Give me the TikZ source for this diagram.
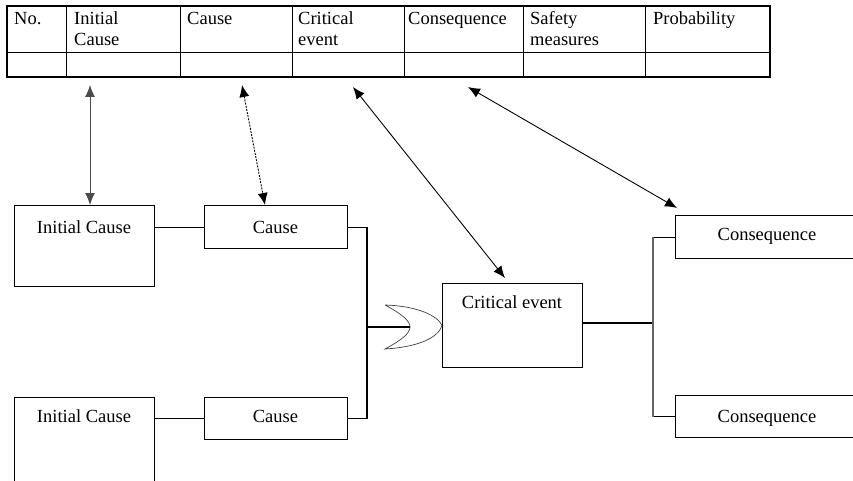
\documentclass[tikz,border=0pt]{standalone}
\usepackage{fontspec}
\setmainfont{Liberation Serif}
\usetikzlibrary{arrows.meta,calc}
\begin{document}
\begin{tikzpicture}[x=1pt,y=-1pt,
  cell/.style={draw,line width=1.1pt,rectangle,inner sep=0,anchor=north west},
  box/.style={draw,line width=1.1pt,rectangle,inner sep=0,anchor=north west},
  txt/.style={inner sep=0,anchor=base west,font=\fontsize{18.5}{21}\selectfont},
  btxt/.style={inner sep=0,anchor=base,font=\fontsize{18.5}{21}\selectfont},
  conn/.style={line width=1.1pt},
  biarrow/.style={line width=0.9pt,{Latex[length=12pt,width=10pt]}-{Latex[length=12pt,width=10pt]}},
  gate/.style={line width=0.7pt,draw=black!75}]
\useasboundingbox (0,0) rectangle (853,481);
\clip (0,0) rectangle (853,481);
% table
\node[cell,minimum width=59,minimum height=46] (h1) at (7,6) {};
\node[cell,minimum width=114,minimum height=46] (h2) at (66,6) {};
\node[cell,minimum width=112,minimum height=46] (h3) at (180,6) {};
\node[cell,minimum width=112,minimum height=46] (h4) at (292,6) {};
\node[cell,minimum width=119,minimum height=46] (h5) at (404,6) {};
\node[cell,minimum width=122,minimum height=46] (h6) at (523,6) {};
\node[cell,minimum width=124,minimum height=46] (h7) at (645,6) {};
\node[cell,minimum width=59,minimum height=24] (r1) at (7,52) {};
\node[cell,minimum width=114,minimum height=24] (r2) at (66,52) {};
\node[cell,minimum width=112,minimum height=24] (r3) at (180,52) {};
\node[cell,minimum width=112,minimum height=24] (r4) at (292,52) {};
\node[cell,minimum width=119,minimum height=24] (r5) at (404,52) {};
\node[cell,minimum width=122,minimum height=24] (r6) at (523,52) {};
\node[cell,minimum width=124,minimum height=24] (r7) at (645,52) {};
\draw[line width=1.8pt] (h1.north west) rectangle (r7.south east);
\node[txt] (t1) at (14,25) {No.};
\node[txt] (t2a) at (74,25) {Initial};
\node[txt] (t2b) at (74,46) {Cause};
\node[txt] (t3) at (187,25) {Cause};
\node[txt] (t4a) at (298,25) {Critical};
\node[txt] (t4b) at (298,46) {event};
\node[txt] (t5) at (408,25) {Consequence};
\node[txt] (t6a) at (530,25) {Safety};
\node[txt] (t6b) at (530,46) {measures};
\node[txt] (t7) at (653,25) {Probability};
% boxes
\node[box,minimum width=140,minimum height=81] (ic1) at (14,205) {};
\node[box,minimum width=143,minimum height=43] (c1) at (204,205) {};
\node[box,minimum width=140,minimum height=100] (ic2) at (14,397) {};
\node[box,minimum width=143,minimum height=42] (c2) at (204,397) {};
\node[box,minimum width=140,minimum height=84] (ce) at (442,283) {};
\node[box,minimum width=184,minimum height=43] (cq1) at (675,215) {};
\node[box,minimum width=184,minimum height=42] (cq2) at (675,395) {};
\node[btxt] at (84,233) {Initial Cause};
\node[btxt] at (275.5,233) {Cause};
\node[btxt] at (84,422) {Initial Cause};
\node[btxt] at (275.5,422) {Cause};
\node[btxt] at (512,308) {Critical event};
\node[btxt] at (767,240) {Consequence};
\node[btxt] at (767,422) {Consequence};
% OR gate
\coordinate (g) at (410,327);
\draw[gate] (385,305) .. controls (402,314) and (410,321) .. (g)
  .. controls (410,333) and (402,340) .. (385,349)
  .. controls (418,347) and (438,338) .. (ce.west)
  .. controls (438,316) and (418,306) .. (385,305);
% connectors
\coordinate (j1) at (367,327);
\coordinate (j2) at (653,323);
\draw[conn] (c1.west -| ic1.east) -- (c1.west);
\draw[conn] (c2.west -| ic2.east) -- (c2.west);
\draw[conn] (c1.east) -| (j1) |- (c2.east);
\draw[conn] (j1) -- (g);
\draw[conn] (ce.east |- j2) -- (j2);
\draw[conn] (cq1.west) -- (cq1.west -| j2);
\draw[conn] (cq2.west) -- (cq2.west -| j2);
\draw[line width=1.1pt,draw=black!60] (cq1.west -| j2) -- (cq2.west -| j2);
% arrows
\coordinate (a1) at (90,85);
\coordinate (a2) at (242,85);
\coordinate (a3) at (353,87);
\coordinate (a4) at (468,87);
\draw[biarrow,draw=black!70,fill=black] (a1) -- (a1 |- ic1.north);
\draw[biarrow,dash pattern=on 2pt off 1.2pt] (a2) -- ($(c1.north west)+(61,0)$);
\draw[biarrow] (a3) -- ($(ce.north west)+(63,-5)$);
\draw[biarrow] (a4) -- ($(cq1.north west)+(2,-7)$);
\end{tikzpicture}
\end{document}
